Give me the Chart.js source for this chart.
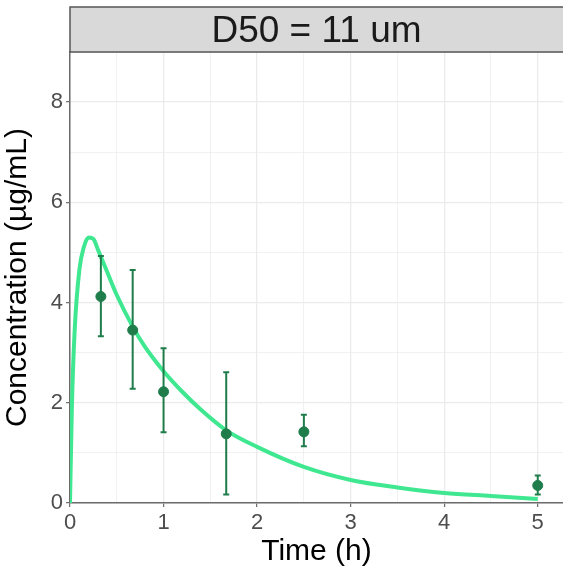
<!DOCTYPE html>
<html>
<head>
<meta charset="utf-8">
<script src="https://cdn.jsdelivr.net/npm/chart.js@4"></script>
<style>
  html, body { margin: 0; padding: 0; background: #fff; overflow: hidden; }
  #wrap { width: 563px; height: 570px; }
</style>
</head>
<body>
<div id="wrap"><canvas id="pkChart" width="563" height="570"></canvas></div>
<script>
// ---- data ----
const stripLabel = 'D50 = 11 um';

// observed means with error bars
const obsTime = [0.33, 0.67, 1.0, 1.67, 2.5, 5.0];
const obsConc = [4.12, 3.45, 2.22, 1.38, 1.42, 0.35];
const obsLow  = [3.33, 2.28, 1.41, 0.17, 1.13, 0.17];
const obsHigh = [4.93, 4.65, 3.09, 2.61, 1.76, 0.55];

// model prediction curve
const predTime = [0, 0.02, 0.05, 0.1, 0.15, 0.2, 0.25, 0.3, 0.4, 0.5, 0.67, 0.8, 1.0, 1.2, 1.4, 1.67, 2.0, 2.5, 3.0, 3.5, 4.0, 4.5, 5.0];
const predConc = [0, 1.9, 3.45, 4.65, 5.12, 5.3, 5.27, 5.05, 4.6, 4.15, 3.52, 3.12, 2.63, 2.22, 1.86, 1.45, 1.12, 0.72, 0.46, 0.31, 0.2, 0.14, 0.08];

const xTickLabels = [0, 1, 2, 3, 4, 5];
const yTickLabels = [0, 2, 4, 6, 8];

const curveColor = '#3fe890';
const pointColor = '#1f7d4b';
const gridColor = '#ebebeb';
const axisColor = '#6b6b6b';
const fontFam = '"Liberation Sans", Arial, sans-serif';

// major ticks plus ggplot-style minor ticks halfway between
function withMinor(major) {
    const out = [];
    major.forEach((v, i) => {
        out.push({ value: v, major: true });
        if (i < major.length - 1) out.push({ value: (v + major[i + 1]) / 2, major: false });
    });
    return out;
}

// facet strip on top of panel
const stripPlugin = {
    id: 'strip',
    afterDraw(chart) {
        const { ctx, chartArea } = chart;
        const top = 7, bottom = chartArea.top;
        ctx.save();
        ctx.fillStyle = '#d9d9d9';
        ctx.fillRect(chartArea.left, top, chart.width - chartArea.left, bottom - top);
        ctx.strokeStyle = '#555';
        ctx.lineWidth = 1.5;
        ctx.beginPath();
        ctx.moveTo(chart.width + 2, top);
        ctx.lineTo(chartArea.left, top);
        ctx.lineTo(chartArea.left, bottom);
        ctx.lineTo(chart.width + 2, bottom);
        ctx.stroke();
        ctx.fillStyle = '#1a1a1a';
        ctx.font = '37px ' + fontFam;
        ctx.textAlign = 'center';
        ctx.textBaseline = 'middle';
        ctx.fillText(stripLabel, (chartArea.left + chart.width) / 2, (top + bottom) / 2 + 2);
        ctx.restore();
    }
};

// vertical error bars at observed points
const errorBarPlugin = {
    id: 'errorBars',
    afterDatasetsDraw(chart) {
        const { ctx, scales: { x, y } } = chart;
        ctx.save();
        ctx.strokeStyle = pointColor;
        ctx.lineWidth = 2;
        obsTime.forEach((t, i) => {
            const px = x.getPixelForValue(t);
            const lo = y.getPixelForValue(obsLow[i]);
            const hi = y.getPixelForValue(obsHigh[i]);
            ctx.beginPath();
            ctx.moveTo(px, lo); ctx.lineTo(px, hi);
            ctx.moveTo(px - 3, lo); ctx.lineTo(px + 3, lo);
            ctx.moveTo(px - 3, hi); ctx.lineTo(px + 3, hi);
            ctx.stroke();
        });
        ctx.restore();
    }
};

const isMajor = (v, list) => list.includes(v);

new Chart(document.getElementById('pkChart'), {
    type: 'scatter',
    data: {
        datasets: [
            {
                label: 'Observed',
                data: obsTime.map((t, i) => ({ x: t, y: obsConc[i] })),
                backgroundColor: pointColor,
                borderColor: pointColor,
                pointRadius: 5,
                order: 0
            },
            {
                label: 'Predicted',
                type: 'line',
                data: predTime.map((t, i) => ({ x: t, y: predConc[i] })),
                borderColor: curveColor,
                borderWidth: 4,
                pointRadius: 0,
                cubicInterpolationMode: 'monotone',
                fill: false,
                order: 1
            }
        ]
    },
    options: {
        responsive: false,
        animation: false,
        layout: { autoPadding: false, padding: { top: 52, right: 0, left: 0, bottom: 0 } },
        plugins: {
            legend: { display: false },
            tooltip: { enabled: false }
        },
        scales: {
            x: {
                type: 'linear',
                min: 0,
                max: 5.27,
                afterBuildTicks: (s) => { s.ticks = withMinor(xTickLabels); },
                afterFit: (s) => { s.height = 67; },
                ticks: {
                    autoSkip: false,
                    maxRotation: 0,
                    color: '#4d4d4d',
                    padding: 3,
                    font: { family: fontFam, size: 22 },
                    callback: (v) => isMajor(v, xTickLabels) ? String(v) : ''
                },
                grid: {
                    color: gridColor,
                    lineWidth: (c) => c.tick && c.tick.major ? 1.3 : 0.7,
                    tickColor: (c) => c.tick && c.tick.major ? axisColor : 'rgba(0,0,0,0)',
                    tickLength: 4,
                    tickWidth: 1.2
                },
                border: { color: axisColor, width: 1.5 },
                title: {
                    display: true,
                    text: 'Time (h)',
                    color: '#000',
                    font: { family: fontFam, size: 30 },
                    padding: { top: 0, bottom: 0 }
                }
            },
            y: {
                min: 0,
                max: 9,
                afterBuildTicks: (s) => { s.ticks = withMinor(yTickLabels.concat([10])).filter(t => t.value <= 9); },
                afterFit: (s) => { s.width = 70; },
                ticks: {
                    autoSkip: false,
                    color: '#4d4d4d',
                    padding: 3,
                    font: { family: fontFam, size: 22 },
                    callback: (v) => isMajor(v, yTickLabels) ? String(v) : ''
                },
                grid: {
                    color: gridColor,
                    lineWidth: (c) => c.tick && c.tick.major ? 1.3 : 0.7,
                    tickColor: (c) => c.tick && c.tick.major ? axisColor : 'rgba(0,0,0,0)',
                    tickLength: 4,
                    tickWidth: 1.2
                },
                border: { color: axisColor, width: 1.5 },
                title: {
                    display: true,
                    text: 'Concentration (µg/mL)',
                    color: '#000',
                    font: { family: fontFam, size: 30 },
                    padding: { top: 0, bottom: 2 }
                }
            }
        }
    },
    plugins: [stripPlugin, errorBarPlugin]
});
</script>
</body>
</html>
